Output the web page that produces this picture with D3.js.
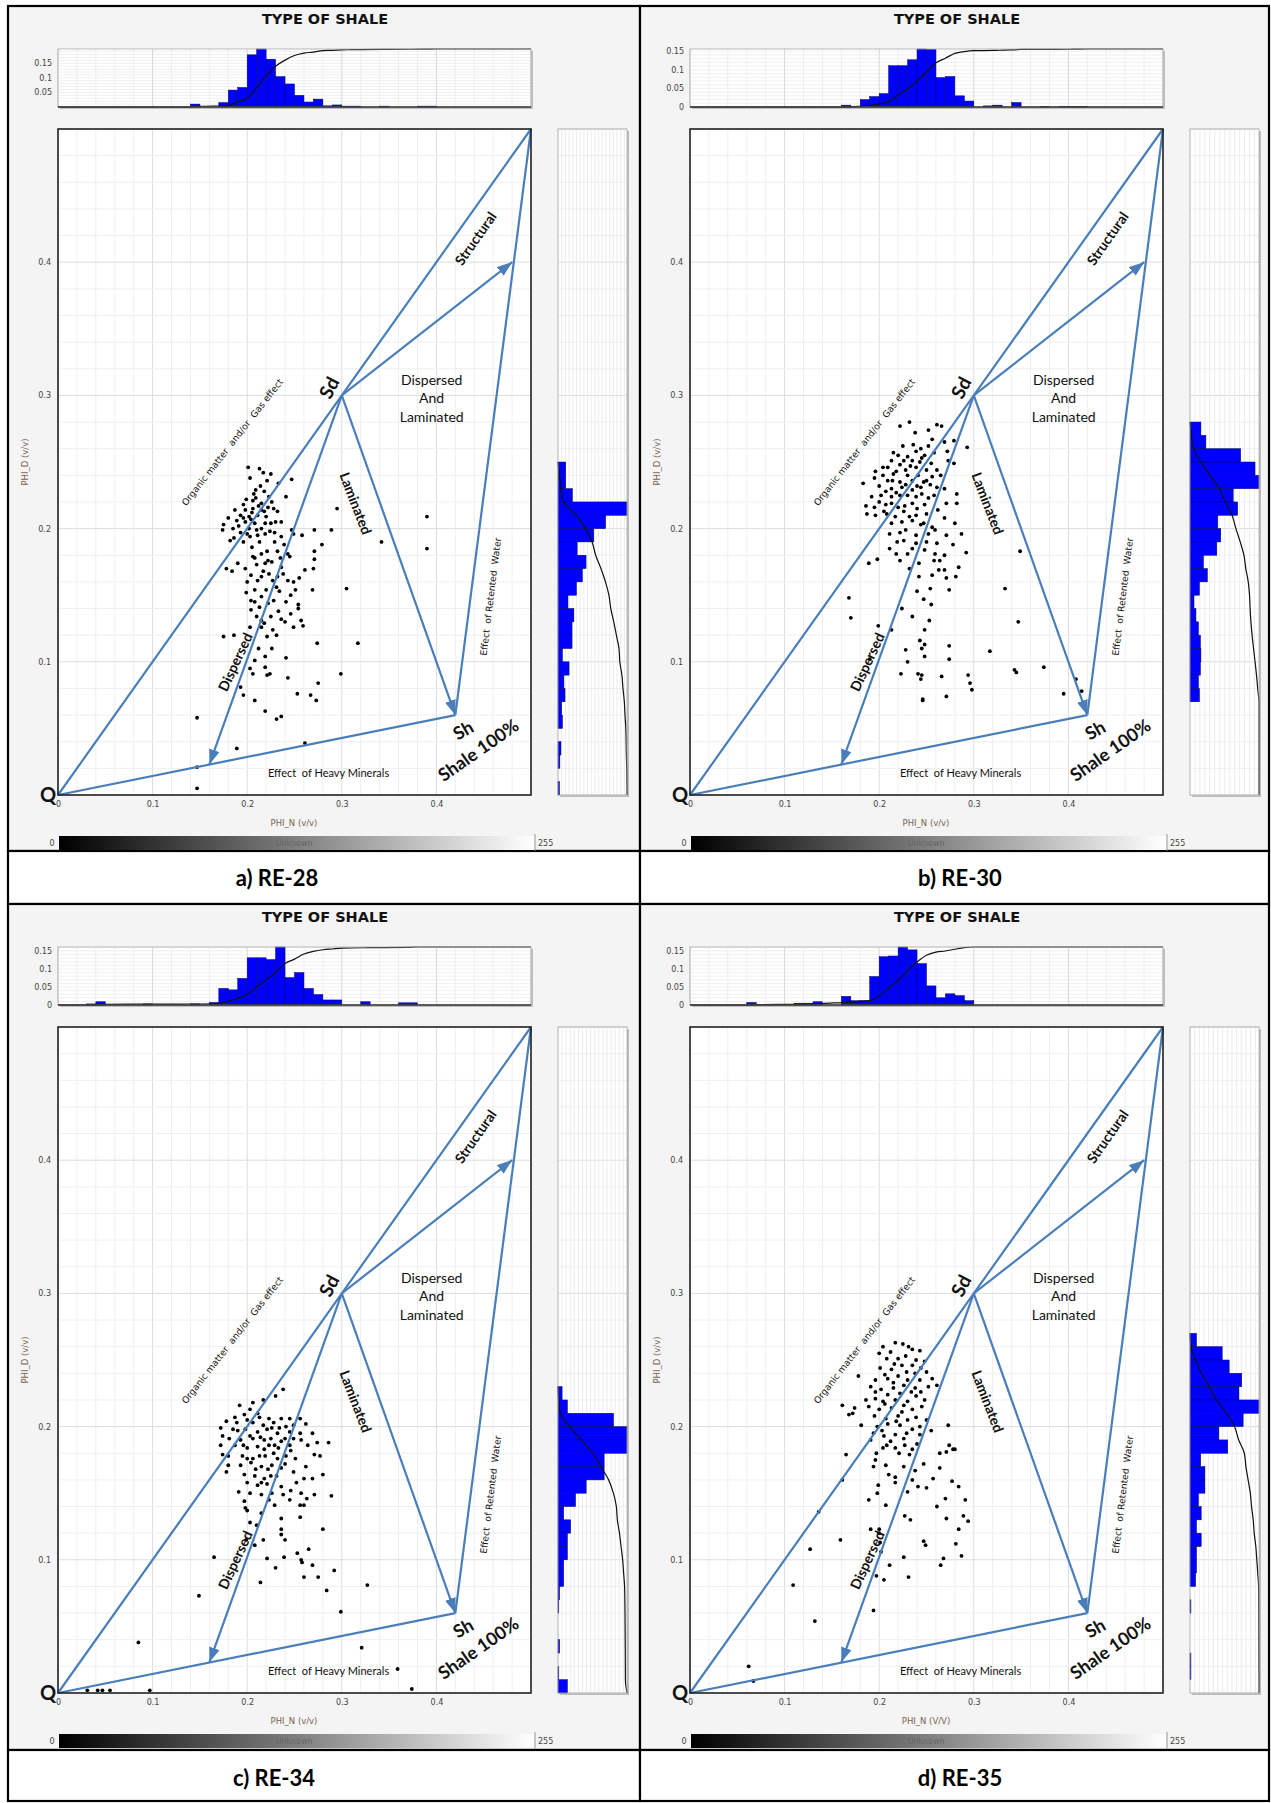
<!DOCTYPE html>
<html><head><meta charset="utf-8">
<script src="https://cdn.jsdelivr.net/npm/d3@7"></script>
<style>body{margin:0;background:#fff}svg{display:block}</style>
</head><body>
<svg id="c" width="1271" height="1803"></svg>
<script>
// ---------------- DATA ----------------
const TITLE = "TYPE OF SHALE";
const CAPTIONS = ["a) RE-28","b) RE-30","c) RE-34","d) RE-35"];
const X_LABELS = ["PHI_N (v/v)","PHI_N (v/v)","PHI_N (v/v)","PHI_N (V/V)"];
const Y_LABEL = "PHI_D (v/v)";
const X_TICKS = [0,0.1,0.2,0.3,0.4];
const Y_TICKS = [0.1,0.2,0.3,0.4];
const TOP_TICKS = [[0.05,0.1,0.15],[0,0.05,0.1,0.15],[0,0.05,0.1,0.15],[0,0.05,0.1,0.15]];
const BAR_LABELS = ["0","Unknown","255"];

// model points (PHI_N, PHI_D)
const Q = [0,0], SD = [0.3,0.3], SH = [0.42,0.06], APEX = [0.5,0.5];
const STRUCT_END = [0.48,0.40], DISP_END = [0.16,0.023];

const ptsA = [[0.201,0.246],[0.213,0.245],[0.217,0.242],[0.225,0.241],[0.203,0.238],[0.247,0.237],[0.233,0.234],[0.209,0.229],[0.218,0.228],[0.223,0.224],[0.241,0.224],[0.206,0.221],[0.215,0.219],[0.222,0.216],[0.228,0.215],[0.295,0.215],[0.187,0.214],[0.198,0.214],[0.206,0.215],[0.215,0.214],[0.232,0.213],[0.193,0.210],[0.202,0.209],[0.211,0.210],[0.390,0.209],[0.180,0.208],[0.189,0.206],[0.198,0.205],[0.208,0.204],[0.219,0.204],[0.236,0.205],[0.175,0.203],[0.185,0.200],[0.202,0.200],[0.215,0.200],[0.247,0.199],[0.271,0.199],[0.289,0.199],[0.258,0.195],
[0.174,0.199],[0.182,0.191],[0.203,0.194],[0.211,0.195],[0.219,0.196],[0.236,0.194],[0.249,0.196],[0.279,0.188],[0.342,0.190],[0.390,0.185],[0.190,0.174],[0.178,0.170],[0.184,0.168],[0.206,0.179],[0.215,0.181],[0.221,0.183],[0.232,0.183],[0.243,0.181],[0.245,0.179],[0.210,0.173],[0.219,0.174],[0.226,0.175],[0.236,0.171],[0.204,0.165],[0.215,0.164],[0.223,0.166],[0.232,0.164],[0.271,0.183],[0.271,0.177],[0.261,0.169],[0.270,0.170],[0.200,0.160],[0.211,0.161],[0.243,0.161],[0.249,0.160],[0.251,0.154],[0.269,0.154],[0.305,0.155],[0.199,0.152],[0.208,0.154],[0.220,0.154],[0.231,0.156],[0.204,0.146],[0.215,0.149],[0.222,0.144],[0.241,0.145],[0.254,0.143],[0.254,0.140],[0.204,0.139],[0.210,0.134],[0.215,0.131],[0.236,0.132],[0.240,0.130],[0.246,0.136],[0.249,0.126],[0.257,0.131],[0.259,0.127],[0.203,0.126],[0.215,0.126],[0.227,0.124],[0.221,0.119],[0.231,0.120],[0.175,0.119],[0.186,0.120],[0.226,0.110],[0.274,0.114],[0.317,0.114],[0.219,0.104],[0.241,0.103],[0.203,0.095],[0.206,0.091],[0.219,0.096],[0.221,0.090],[0.224,0.091],[0.299,0.091],[0.243,0.088],[0.275,0.084],[0.193,0.081],[0.196,0.075],[0.208,0.071],[0.253,0.076],[0.267,0.075],[0.273,0.071],[0.219,0.063],[0.231,0.057],[0.236,0.059],[0.147,0.058],[0.189,0.035],[0.261,0.039],[0.147,0.021],[0.147,0.005],
[0.196,0.218],[0.205,0.212],[0.212,0.217],[0.220,0.209],[0.226,0.220],[0.209,0.223],[0.200,0.196],[0.224,0.198],[0.213,0.190],[0.205,0.186],[0.229,0.190],[0.196,0.190],[0.217,0.168],[0.228,0.146],[0.234,0.153],[0.213,0.141],[0.225,0.134],[0.238,0.166],[0.230,0.205],[0.191,0.202],
[0.199,0.222],[0.207,0.226],[0.214,0.232],[0.221,0.236],[0.204,0.207],[0.196,0.208],[0.210,0.199],[0.218,0.213],[0.225,0.204],[0.229,0.197],[0.186,0.193],[0.193,0.197],[0.239,0.188],[0.208,0.178],[0.222,0.176],[0.198,0.170],[0.235,0.178],[0.227,0.161],[0.246,0.150],[0.208,0.145],[0.218,0.129],[0.233,0.138],[0.212,0.110],[0.208,0.101],[0.255,0.163]];

const ptsB = [[0.222,0.277],[0.232,0.280],[0.261,0.278],[0.266,0.277],[0.238,0.272],[0.252,0.274],[0.256,0.267],[0.269,0.265],[0.279,0.266],[0.293,0.261],[0.225,0.262],[0.244,0.260],[0.239,0.258],[0.220,0.255],[0.230,0.254],[0.248,0.255],[0.258,0.257],[0.272,0.258],[0.213,0.251],[0.235,0.251],[0.243,0.250],[0.255,0.249],[0.273,0.251],[0.279,0.249],[0.209,0.246],[0.222,0.248],[0.239,0.246],[0.250,0.244],[0.261,0.244],[0.196,0.243],[0.204,0.240],[0.215,0.241],[0.230,0.240],[0.241,0.240],[0.256,0.239],[0.265,0.240],[0.195,0.238],[0.209,0.236],[0.222,0.235],[0.235,0.236],[0.247,0.235],[0.254,0.233],[0.183,0.234],[0.200,0.232],[0.213,0.230],[0.224,0.231],[0.235,0.229],[0.244,0.231],[0.261,0.231],[0.269,0.230],[0.192,0.224],[0.202,0.225],[0.213,0.224],[0.222,0.225],[0.239,0.224],[0.252,0.223],[0.282,0.226],[0.186,0.217],[0.195,0.216],[0.207,0.218],[0.220,0.216],[0.235,0.219],[0.248,0.218],[0.271,0.219],[0.282,0.219],[0.187,0.211],[0.196,0.210],[0.208,0.211],[0.217,0.209],[0.226,0.213],[0.239,0.210],[0.250,0.211],[0.269,0.208],[0.213,0.204],[0.224,0.205],[0.235,0.206],[0.247,0.204],[0.256,0.201],[0.280,0.204],[0.211,0.196],[0.222,0.197],[0.239,0.195],[0.259,0.199],[0.271,0.195],[0.287,0.196],[0.219,0.190],[0.226,0.191],[0.239,0.189],[0.250,0.190],[0.261,0.189],[0.278,0.188],[0.211,0.185],[0.230,0.181],[0.259,0.181],[0.269,0.180],[0.292,0.182],[0.349,0.183],[0.189,0.174],[0.198,0.177],[0.222,0.176],[0.242,0.174],[0.258,0.176],[0.263,0.169],[0.269,0.169],[0.284,0.171],[0.242,0.164],[0.271,0.163],[0.281,0.164],[0.274,0.154],[0.240,0.153],[0.254,0.155],[0.333,0.155],[0.168,0.148],[0.255,0.143],[0.170,0.133],[0.235,0.134],[0.253,0.131],[0.199,0.127],[0.213,0.124],[0.248,0.124],[0.347,0.130],[0.243,0.116],[0.248,0.113],[0.274,0.112],[0.317,0.108],[0.228,0.109],[0.245,0.110],[0.190,0.102],[0.230,0.100],[0.274,0.102],[0.248,0.104],[0.223,0.091],[0.241,0.091],[0.245,0.090],[0.244,0.087],[0.266,0.089],[0.294,0.090],[0.296,0.084],[0.298,0.079],[0.343,0.094],[0.345,0.092],[0.374,0.096],[0.246,0.072],[0.246,0.071],[0.271,0.074],[0.395,0.076],[0.414,0.078],[0.408,0.087],
[0.215,0.257],[0.226,0.251],[0.233,0.247],[0.245,0.253],[0.252,0.262],[0.236,0.263],[0.218,0.243],[0.228,0.244],[0.204,0.246],[0.214,0.236],[0.228,0.233],[0.240,0.232],[0.250,0.236],[0.207,0.228],[0.218,0.227],[0.230,0.225],[0.245,0.226],[0.258,0.225],[0.200,0.220],[0.213,0.219],[0.227,0.217],[0.240,0.215],[0.262,0.214],[0.205,0.213],[0.232,0.209],[0.244,0.203],[0.228,0.199],[0.252,0.196],[0.235,0.185],[0.248,0.184],[0.218,0.181],[0.264,0.176],[0.232,0.170],[0.256,0.165],[0.247,0.147],[0.224,0.140]];

const ptsC = [[0.238,0.228],[0.230,0.223],[0.217,0.220],[0.206,0.218],[0.192,0.216],[0.203,0.213],[0.197,0.209],[0.211,0.210],[0.187,0.207],[0.223,0.206],[0.236,0.206],[0.245,0.206],[0.256,0.206],[0.178,0.204],[0.189,0.203],[0.206,0.203],[0.217,0.201],[0.228,0.203],[0.241,0.200],[0.249,0.201],[0.262,0.202],[0.172,0.199],[0.185,0.198],[0.198,0.198],[0.211,0.196],[0.221,0.198],[0.232,0.195],[0.245,0.196],[0.256,0.195],[0.269,0.195],[0.174,0.193],[0.193,0.190],[0.206,0.191],[0.218,0.190],[0.225,0.191],[0.236,0.189],[0.249,0.191],[0.257,0.190],[0.172,0.186],[0.187,0.186],[0.200,0.184],[0.211,0.185],[0.223,0.186],[0.233,0.184],[0.245,0.186],[0.264,0.186],[0.274,0.188],[0.286,0.188],[0.174,0.179],[0.180,0.178],[0.195,0.178],[0.206,0.176],[0.219,0.178],[0.228,0.180],[0.241,0.178],[0.251,0.176],[0.271,0.179],[0.277,0.178],[0.180,0.171],[0.193,0.171],[0.204,0.173],[0.215,0.170],[0.226,0.171],[0.236,0.169],[0.249,0.166],[0.178,0.166],[0.197,0.164],[0.208,0.163],[0.218,0.161],[0.225,0.163],[0.260,0.161],[0.269,0.161],[0.280,0.164],[0.200,0.158],[0.211,0.156],[0.221,0.157],[0.236,0.155],[0.246,0.152],[0.191,0.151],[0.203,0.150],[0.215,0.149],[0.226,0.150],[0.238,0.149],[0.257,0.150],[0.271,0.149],[0.289,0.148],[0.263,0.146],[0.197,0.144],[0.223,0.145],[0.256,0.141],[0.260,0.141],[0.198,0.139],[0.200,0.137],[0.215,0.135],[0.236,0.131],[0.256,0.132],[0.203,0.128],[0.210,0.126],[0.236,0.123],[0.236,0.119],[0.240,0.115],[0.280,0.123],[0.199,0.115],[0.217,0.115],[0.208,0.111],[0.253,0.105],[0.265,0.108],[0.257,0.100],[0.258,0.098],[0.269,0.096],[0.165,0.102],[0.221,0.101],[0.239,0.102],[0.230,0.094],[0.292,0.092],[0.260,0.087],[0.275,0.087],[0.214,0.083],[0.327,0.081],[0.284,0.077],[0.149,0.073],[0.299,0.061],[0.085,0.038],[0.321,0.034],[0.359,0.018],[0.374,0.003],[0.031,0.002],[0.042,0.002],[0.047,0.002],[0.055,0.002],[0.097,0.002],
[0.200,0.205],[0.213,0.207],[0.226,0.199],[0.234,0.199],[0.203,0.193],[0.214,0.192],[0.229,0.186],[0.240,0.191],[0.196,0.186],[0.218,0.183],[0.232,0.176],[0.246,0.182],[0.213,0.178],[0.200,0.176],[0.222,0.168],[0.240,0.172],[0.209,0.168],[0.231,0.163],[0.252,0.158],[0.215,0.158],[0.245,0.145],[0.229,0.141],[0.190,0.197],[0.181,0.191],[0.262,0.170]];

const ptsD = [[0.204,0.260],[0.217,0.263],[0.225,0.262],[0.235,0.258],[0.243,0.257],[0.200,0.255],[0.208,0.251],[0.220,0.251],[0.228,0.253],[0.239,0.250],[0.248,0.249],[0.224,0.246],[0.235,0.246],[0.201,0.244],[0.213,0.243],[0.244,0.244],[0.250,0.241],[0.178,0.238],[0.196,0.235],[0.209,0.236],[0.220,0.238],[0.230,0.235],[0.243,0.235],[0.256,0.236],[0.261,0.231],[0.191,0.230],[0.202,0.228],[0.215,0.229],[0.226,0.231],[0.238,0.229],[0.252,0.230],[0.186,0.220],[0.196,0.221],[0.204,0.219],[0.217,0.220],[0.230,0.219],[0.239,0.223],[0.248,0.220],[0.161,0.216],[0.174,0.214],[0.189,0.215],[0.200,0.213],[0.213,0.214],[0.224,0.211],[0.235,0.213],[0.245,0.215],[0.168,0.209],[0.172,0.210],[0.195,0.208],[0.207,0.206],[0.220,0.208],[0.230,0.205],[0.239,0.207],[0.250,0.205],[0.181,0.201],[0.198,0.200],[0.209,0.202],[0.222,0.201],[0.235,0.198],[0.255,0.197],[0.273,0.201],[0.194,0.195],[0.205,0.193],[0.217,0.194],[0.226,0.191],[0.243,0.194],[0.191,0.190],[0.208,0.186],[0.217,0.184],[0.227,0.186],[0.235,0.183],[0.274,0.186],[0.278,0.183],[0.165,0.179],[0.197,0.180],[0.204,0.184],[0.232,0.179],[0.264,0.180],[0.271,0.181],[0.280,0.183],[0.194,0.170],[0.207,0.171],[0.238,0.167],[0.264,0.169],[0.217,0.162],[0.235,0.160],[0.161,0.160],[0.277,0.159],[0.199,0.156],[0.217,0.158],[0.241,0.155],[0.250,0.154],[0.284,0.155],[0.230,0.151],[0.198,0.150],[0.189,0.145],[0.270,0.146],[0.291,0.145],[0.207,0.141],[0.261,0.140],[0.136,0.136],[0.227,0.133],[0.233,0.130],[0.271,0.131],[0.289,0.133],[0.294,0.129],[0.191,0.123],[0.200,0.123],[0.200,0.120],[0.284,0.123],[0.159,0.115],[0.201,0.113],[0.247,0.114],[0.249,0.111],[0.281,0.112],[0.127,0.108],[0.202,0.106],[0.287,0.103],[0.226,0.102],[0.268,0.101],[0.211,0.096],[0.265,0.096],[0.197,0.088],[0.231,0.087],[0.205,0.085],[0.109,0.081],[0.194,0.062],[0.132,0.054],[0.062,0.020],[0.067,0.009],
[0.212,0.256],[0.231,0.260],[0.216,0.247],[0.229,0.241],[0.206,0.239],[0.238,0.240],[0.215,0.233],[0.234,0.226],[0.209,0.224],[0.222,0.225],[0.244,0.226],[0.196,0.226],[0.206,0.217],[0.226,0.216],[0.218,0.204],[0.243,0.200],[0.203,0.197],[0.229,0.195],[0.212,0.189],[0.240,0.187],[0.221,0.180],[0.196,0.175],[0.226,0.170],[0.247,0.172],[0.210,0.164],[0.257,0.161]];

// histograms: [bin lower edge, frequency], bin width 0.01
const histNA = [[0.14,0.010],[0.17,0.015],[0.18,0.058],[0.19,0.067],[0.20,0.179],[0.21,0.199],[0.22,0.164],[0.23,0.104],[0.24,0.079],[0.25,0.040],[0.26,0.017],[0.27,0.027],[0.28,0.004],[0.29,0.007],[0.30,0.003],[0.31,0.003],[0.34,0.003],[0.38,0.003],[0.39,0.003]];
const histDA = [[0.24,0.021],[0.23,0.021],[0.22,0.039],[0.21,0.187],[0.20,0.129],[0.19,0.097],[0.18,0.052],[0.17,0.076],[0.16,0.066],[0.15,0.050],[0.14,0.027],[0.13,0.043],[0.12,0.038],[0.11,0.038],[0.10,0.012],[0.09,0.030],[0.08,0.016],[0.07,0.019],[0.06,0.010],[0.05,0.012],[0.03,0.008],[0.02,0.005],[0.00,0.004]];
const histNB = [[0.16,0.005],[0.18,0.020],[0.19,0.028],[0.20,0.036],[0.21,0.111],[0.22,0.111],[0.23,0.127],[0.24,0.156],[0.25,0.155],[0.26,0.079],[0.27,0.082],[0.28,0.030],[0.29,0.016],[0.31,0.003],[0.32,0.005],[0.34,0.012],[0.37,0.002],[0.39,0.002],[0.40,0.002],[0.41,0.002]];
const histDB = [[0.27,0.022],[0.26,0.032],[0.25,0.102],[0.24,0.131],[0.23,0.139],[0.22,0.087],[0.21,0.096],[0.20,0.056],[0.19,0.062],[0.18,0.054],[0.17,0.027],[0.16,0.035],[0.15,0.019],[0.14,0.008],[0.13,0.012],[0.12,0.017],[0.11,0.021],[0.10,0.022],[0.09,0.021],[0.08,0.017],[0.07,0.019]];
const histNC = [[0.03,0.003],[0.04,0.009],[0.09,0.003],[0.14,0.003],[0.16,0.007],[0.17,0.046],[0.18,0.042],[0.19,0.074],[0.20,0.131],[0.21,0.131],[0.22,0.126],[0.23,0.161],[0.24,0.076],[0.25,0.090],[0.26,0.046],[0.27,0.029],[0.28,0.014],[0.29,0.014],[0.32,0.009],[0.36,0.006],[0.37,0.006]];
const histDC = [[0.22,0.010],[0.21,0.023],[0.20,0.136],[0.19,0.169],[0.18,0.169],[0.17,0.113],[0.16,0.113],[0.15,0.069],[0.14,0.043],[0.13,0.014],[0.12,0.031],[0.11,0.023],[0.10,0.023],[0.09,0.014],[0.08,0.014],[0.07,0.004],[0.06,0.002],[0.03,0.004],[0.01,0.002],[0.00,0.023]];
const histND = [[0.06,0.007],[0.11,0.005],[0.12,0.005],[0.13,0.009],[0.16,0.024],[0.17,0.012],[0.18,0.012],[0.19,0.079],[0.20,0.134],[0.21,0.136],[0.22,0.161],[0.23,0.153],[0.24,0.115],[0.25,0.053],[0.26,0.020],[0.27,0.031],[0.28,0.026],[0.29,0.012]];
const histDD = [[0.26,0.014],[0.25,0.069],[0.24,0.084],[0.23,0.111],[0.22,0.105],[0.21,0.148],[0.20,0.114],[0.19,0.062],[0.18,0.081],[0.17,0.023],[0.16,0.032],[0.15,0.032],[0.14,0.018],[0.13,0.024],[0.12,0.014],[0.11,0.024],[0.10,0.014],[0.09,0.014],[0.08,0.012],[0.06,0.002],[0.02,0.002],[0.01,0.002]];

const PANELS = [
  {pts:ptsA, hN:histNA, hD:histDA},
  {pts:ptsB, hN:histNB, hD:histDB},
  {pts:ptsC, hN:histNC, hD:histDC},
  {pts:ptsD, hN:histND, hD:histDD}
];

// ---------------- LAYOUT ----------------
const BIN = 0.01;
const OFF_X = [0, 632], OFF_Y = [0, 898];
const PLOT = {x:58, y:129, w:473, h:666};
const TOPH = {x:58, y:49, h:58};
const RIGHTH = {x:558, w:69};
const BLUE = "#4a7ebb";
const ANNOT = [
  {t:"Structural", x:0.441, y:0.418, a:-55, f:"Lato", s:14, w:"bold"},
  {t:"Sd", x:0.286, y:0.306, a:-62, f:"Lato", s:19, w:"bold"},
  {t:"Organic matter  and/or  Gas effect", x:0.184, y:0.265, a:-52, f:"DejaVu Sans", s:9.2, w:"normal"},
  {t:"Laminated", x:0.315, y:0.219, a:69, f:"Lato", s:14, w:"bold"},
  {t:"Dispersed", x:0.187, y:0.100, a:-65, f:"Lato", s:14, w:"bold"},
  {t:"Effect  of Retented  Water", x:0.457, y:0.149, a:-83, f:"DejaVu Sans", s:9.2, w:"normal"},
  {t:"Effect  of Heavy Minerals", x:0.286, y:0.017, a:0, f:"Lato", s:11, w:"normal"},
  {t:"Sh", x:0.428, y:0.049, a:-30, f:"Lato", s:18, w:"bold"},
  {t:"Shale 100%", x:0.444, y:0.034, a:-35, f:"Lato", s:18, w:"bold"}
];
const DAL = ["Dispersed","And","Laminated"];
const CAP_POS = [[277,877],[960,877],[274,1777],[960,1777]];

const svg = d3.select("#c");
const defs = svg.append("defs");
const grad = defs.append("linearGradient").attr("id","gbar").attr("x1","0").attr("x2","1").attr("y1","0").attr("y2","0");
grad.append("stop").attr("offset","0%").attr("stop-color","#000");
grad.append("stop").attr("offset","100%").attr("stop-color","#fff");
defs.append("marker").attr("id","arr").attr("markerUnits","userSpaceOnUse")
  .attr("markerWidth",16).attr("markerHeight",12).attr("refX",15).attr("refY",5.5).attr("orient","auto")
  .append("path").attr("d","M0,0 L15,5.5 L0,11 Z").attr("fill",BLUE);

// frame / table structure
const COLS = [[8,640],[640,1269]];
const ROWS = [[6,851,904],[904,1750,1801]];
ROWS.forEach(r => COLS.forEach(c => {
  svg.append("rect").attr("x",c[0]).attr("y",r[0]).attr("width",c[1]-c[0]).attr("height",r[1]-r[0])
    .attr("fill","#f4f4f4").attr("stroke","#000").attr("stroke-width",2.2);
  svg.append("rect").attr("x",c[0]).attr("y",r[1]).attr("width",c[1]-c[0]).attr("height",r[2]-r[1])
    .attr("fill","#fff").attr("stroke","#000").attr("stroke-width",2.2);
}));

const x = d3.scaleLinear().domain([0,0.5]).range([0,PLOT.w]);
const y = d3.scaleLinear().domain([0,0.5]).range([PLOT.h,0]);
const fmt = d3.format("");
const gridV = d3.range(0,0.5001,0.02);
const isMajor = d => Math.abs(d*10-Math.round(d*10))<1e-6;

function drawPanel(i){
  const P = PANELS[i];
  const g = svg.append("g").attr("transform",`translate(${OFF_X[i%2]},${OFF_Y[Math.floor(i/2)]})`);
  g.append("text").attr("x",325).attr("y",24).attr("text-anchor","middle")
    .attr("font-family","DejaVu Sans").attr("font-weight","bold").attr("font-size",14.5).attr("fill","#111").text(TITLE);

  // ---- top histogram ----
  const th = g.append("g").attr("transform",`translate(${TOPH.x},${TOPH.y})`);
  const maxN = d3.max(P.hN, d=>d[1]);
  const yT = d3.scaleLinear().domain([0,maxN]).range([TOPH.h,0]);
  const yC = d3.scaleLinear().domain([0,1]).range([TOPH.h,0]);
  th.append("rect").attr("x",2).attr("y",2).attr("width",PLOT.w).attr("height",TOPH.h).attr("fill","#bdbdbd");
  th.append("rect").attr("width",PLOT.w).attr("height",TOPH.h).attr("fill","#fff");
  th.selectAll(".hg").data(d3.range(0,maxN,0.01)).join("line")
    .attr("x1",0).attr("x2",PLOT.w).attr("y1",d=>yT(d)).attr("y2",d=>yT(d)).attr("stroke","#f0f0f0");
  th.selectAll(".vg").data(gridV).join("line")
    .attr("x1",d=>x(d)).attr("x2",d=>x(d)).attr("y1",0).attr("y2",TOPH.h)
    .attr("stroke",d=>isMajor(d)?"#d8d8d8":"#eeeeee");
  th.selectAll(".bar").data(P.hN).join("rect")
    .attr("x",d=>x(d[0])).attr("width",d=>x(d[0]+BIN)-x(d[0]))
    .attr("y",d=>yT(d[1])).attr("height",d=>yT(0)-yT(d[1]))
    .attr("fill","#0000ff").attr("stroke","#000060").attr("stroke-width",0.5);
  const sN = P.hN.slice().sort((a,b)=>a[0]-b[0]);
  const totN = d3.sum(sN,d=>d[1]);
  let cN = 0; const cdfN = [[0,0],[sN[0][0],0]];
  sN.forEach(d=>{cN+=d[1]; cdfN.push([d[0]+BIN,cN/totN]);});
  cdfN.push([0.5,1]);
  th.append("path").attr("d",d3.line().x(d=>x(d[0])).y(d=>yC(d[1])).curve(d3.curveMonotoneX)(cdfN))
    .attr("fill","none").attr("stroke","#111").attr("stroke-width",1.2);
  th.append("rect").attr("width",PLOT.w).attr("height",TOPH.h).attr("fill","none").attr("stroke","#aaa").attr("stroke-width",0.8);
  th.append("line").attr("x1",0).attr("x2",PLOT.w).attr("y1",TOPH.h).attr("y2",TOPH.h).attr("stroke","#333").attr("stroke-width",1.3);
  const ta = th.append("g").call(d3.axisLeft(yT).tickValues(TOP_TICKS[i]).tickSize(0).tickPadding(6).tickFormat(fmt));
  ta.select(".domain").remove();
  ta.selectAll("text").attr("font-family","DejaVu Sans").attr("font-size",8).attr("fill","#444");

  // ---- main plot ----
  const pg = g.append("g").attr("transform",`translate(${PLOT.x},${PLOT.y})`);
  pg.append("rect").attr("width",PLOT.w).attr("height",PLOT.h).attr("fill","#fff");
  pg.selectAll(".gx").data(gridV).join("line")
    .attr("x1",d=>x(d)).attr("x2",d=>x(d)).attr("y1",0).attr("y2",PLOT.h)
    .attr("stroke",d=>isMajor(d)?"#dcdcdc":"#efefef");
  pg.selectAll(".gy").data(gridV).join("line")
    .attr("y1",d=>y(d)).attr("y2",d=>y(d)).attr("x1",0).attr("x2",PLOT.w)
    .attr("stroke",d=>isMajor(d)?"#dcdcdc":"#efefef");

  // points
  pg.selectAll(".pt").data(P.pts).join("circle")
    .attr("cx",d=>x(d[0])).attr("cy",d=>y(d[1])).attr("r",1.9).attr("fill","#000");

  // model lines
  const seg = (a,b,arrow) => {
    const l = pg.append("line").attr("x1",x(a[0])).attr("y1",y(a[1])).attr("x2",x(b[0])).attr("y2",y(b[1]))
      .attr("stroke",BLUE).attr("stroke-width",2.2);
    if(arrow) l.attr("marker-end","url(#arr)");
  };
  seg(Q,APEX,false); seg(Q,SH,false); seg(SH,APEX,false);
  seg(SD,STRUCT_END,true); seg(SD,SH,true); seg(SD,DISP_END,true);

  pg.append("rect").attr("width",PLOT.w).attr("height",PLOT.h).attr("fill","none").attr("stroke","#222").attr("stroke-width",1.6);

  // annotations
  ANNOT.forEach(a=>{
    pg.append("text").attr("transform",`translate(${x(a.x)},${y(a.y)}) rotate(${a.a})`)
      .attr("text-anchor","middle").attr("dominant-baseline","central")
      .attr("font-family",a.f).attr("font-size",a.s).attr("font-weight",a.w).attr("fill","#111")
      .style("white-space","pre").text(a.t);
  });
  DAL.forEach((t,k)=>{
    pg.append("text").attr("x",x(0.395)).attr("y",y(0.312)+k*18.5).attr("text-anchor","middle")
      .attr("dominant-baseline","central").attr("font-family","Lato").attr("font-size",14).attr("fill","#111").text(t);
  });
  pg.append("text").attr("x",x(0)-10).attr("y",y(0)-1).attr("text-anchor","middle").attr("dominant-baseline","central")
    .attr("font-family","Lato").attr("font-weight","bold").attr("font-size",20).attr("fill","#111").text("Q");

  const xa = pg.append("g").attr("transform",`translate(0,${PLOT.h})`)
    .call(d3.axisBottom(x).tickValues(X_TICKS).tickSize(0).tickPadding(6).tickFormat(fmt));
  xa.select(".domain").remove();
  xa.selectAll("text").attr("font-family","DejaVu Sans").attr("font-size",8).attr("fill","#444");
  const ya = pg.append("g").call(d3.axisLeft(y).tickValues(Y_TICKS).tickSize(0).tickPadding(7).tickFormat(fmt));
  ya.select(".domain").remove();
  ya.selectAll("text").attr("font-family","DejaVu Sans").attr("font-size",8).attr("fill","#444");

  g.append("text").attr("transform",`translate(25,${PLOT.y+333}) rotate(-90)`).attr("text-anchor","middle")
    .attr("dominant-baseline","central").attr("font-family","DejaVu Sans").attr("font-size",8.5).attr("fill","#7a6350").text(Y_LABEL);
  g.append("text").attr("x",PLOT.x+236).attr("y",826).attr("text-anchor","middle")
    .attr("font-family","DejaVu Sans").attr("font-size",8.5).attr("fill","#7a6350").text(X_LABELS[i]);

  // ---- right histogram ----
  const rh = g.append("g").attr("transform",`translate(${RIGHTH.x},${PLOT.y})`);
  const maxD = d3.max(P.hD, d=>d[1]);
  const xR = d3.scaleLinear().domain([0,maxD]).range([0,RIGHTH.w]);
  const xRC = d3.scaleLinear().domain([0,1]).range([0,RIGHTH.w]);
  rh.append("rect").attr("x",2).attr("y",2).attr("width",RIGHTH.w).attr("height",PLOT.h).attr("fill","#bdbdbd");
  rh.append("rect").attr("width",RIGHTH.w).attr("height",PLOT.h).attr("fill","#fff");
  rh.selectAll(".gy").data(gridV).join("line")
    .attr("y1",d=>y(d)).attr("y2",d=>y(d)).attr("x1",0).attr("x2",RIGHTH.w)
    .attr("stroke",d=>isMajor(d)?"#dcdcdc":"#efefef");
  rh.selectAll(".gx").data(d3.range(0,maxD,0.01)).join("line")
    .attr("x1",d=>xR(d)).attr("x2",d=>xR(d)).attr("y1",0).attr("y2",PLOT.h).attr("stroke","#ececec");
  rh.selectAll(".bar").data(P.hD).join("rect")
    .attr("x",0).attr("width",d=>xR(d[1]))
    .attr("y",d=>y(d[0]+BIN)).attr("height",d=>y(d[0])-y(d[0]+BIN))
    .attr("fill","#0000ff").attr("stroke","#000060").attr("stroke-width",0.5);
  const sD = P.hD.slice().sort((a,b)=>b[0]-a[0]);
  const totD = d3.sum(sD,d=>d[1]);
  let cD = 0; const cdfD = [[0,sD[0][0]+BIN]];
  sD.forEach(d=>{cD+=d[1]; cdfD.push([cD/totD,d[0]]);});
  cdfD.push([1,0]);
  rh.append("path").attr("d",d3.line().x(d=>xRC(d[0])).y(d=>y(d[1])).curve(d3.curveMonotoneY)(cdfD))
    .attr("fill","none").attr("stroke","#111").attr("stroke-width",1.2);
  rh.append("rect").attr("width",RIGHTH.w).attr("height",PLOT.h).attr("fill","none").attr("stroke","#aaa").attr("stroke-width",0.8);

  // ---- colour bar ----
  g.append("rect").attr("x",59).attr("y",836).attr("width",475).attr("height",14).attr("fill","url(#gbar)");
  g.append("line").attr("x1",535).attr("x2",535).attr("y1",834).attr("y2",851).attr("stroke","#999");
  g.append("text").attr("x",52).attr("y",846).attr("text-anchor","middle").attr("font-family","DejaVu Sans").attr("font-size",8).attr("fill","#444").text(BAR_LABELS[0]);
  g.append("text").attr("x",294).attr("y",846).attr("text-anchor","middle").attr("font-family","DejaVu Sans").attr("font-size",8).attr("fill","#666").text(BAR_LABELS[1]);
  g.append("text").attr("x",538).attr("y",846).attr("font-family","DejaVu Sans").attr("font-size",8).attr("fill","#444").text(BAR_LABELS[2]);
}
[0,1,2,3].forEach(drawPanel);

CAPTIONS.forEach((t,i)=>{
  svg.append("text").attr("x",CAP_POS[i][0]).attr("y",CAP_POS[i][1]).attr("text-anchor","middle").attr("dominant-baseline","central")
    .attr("font-family","Lato").attr("font-weight","bold").attr("font-size",22).attr("fill","#000").text(t);
});
</script></body></html>
